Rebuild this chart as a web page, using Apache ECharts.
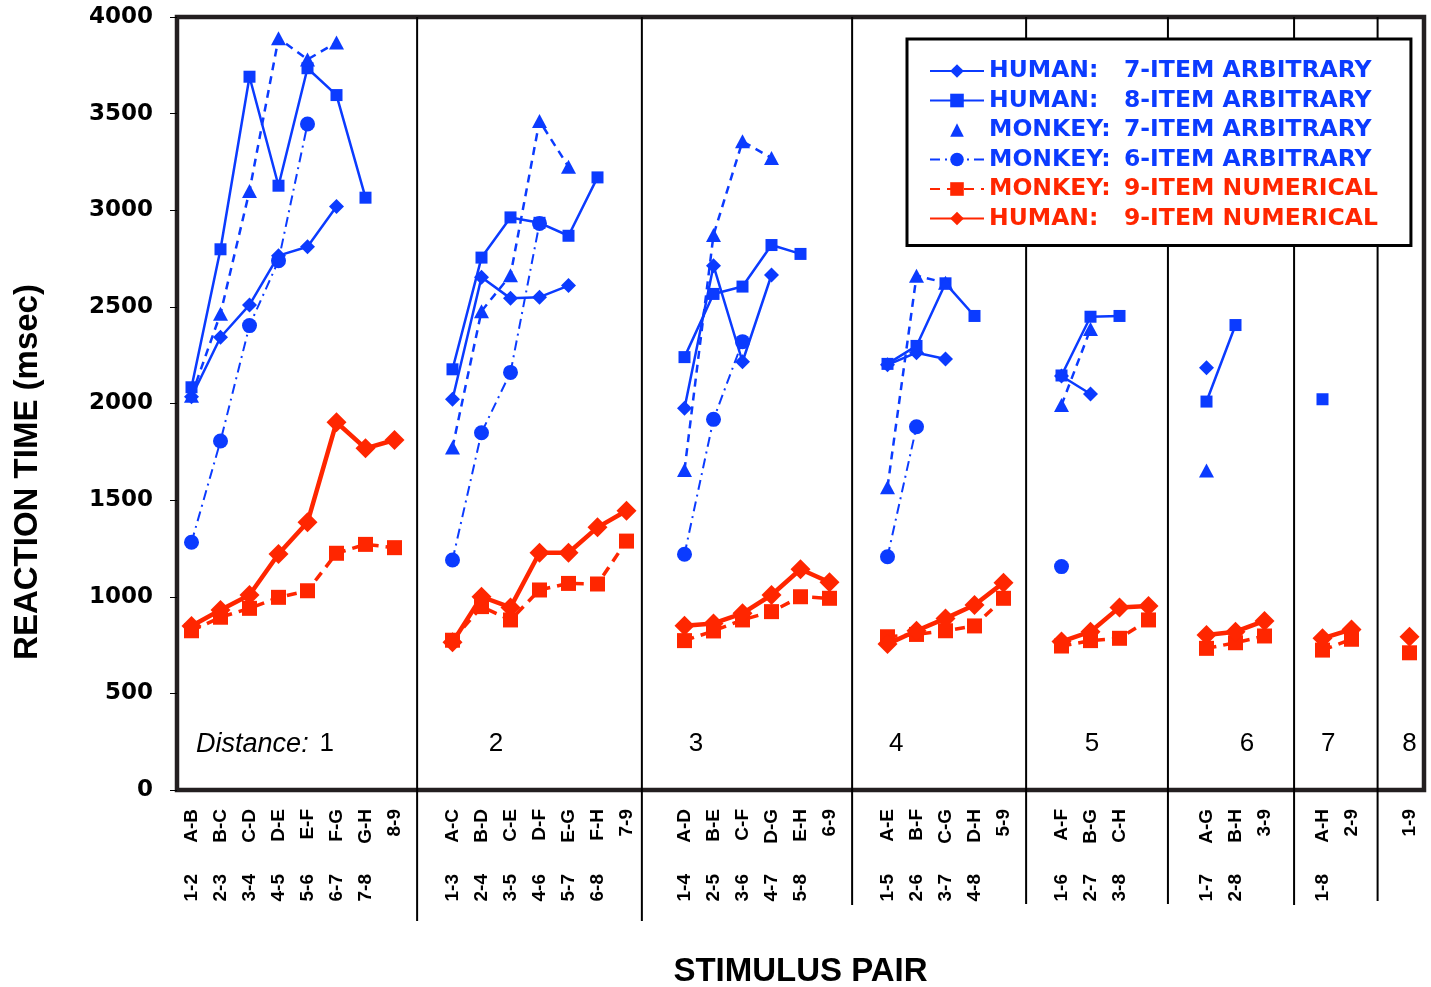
<!DOCTYPE html>
<html>
<head>
<meta charset="utf-8">
<title>Reaction time by stimulus pair</title>
<script src="https://cdn.jsdelivr.net/npm/echarts@6/dist/echarts.min.js"></script>
<style>
  html, body { margin: 0; padding: 0; background: #fff; }
  #main { width: 1431px; height: 987px; }
</style>
</head>
<body>
<div id="main"></div>
<script>
// x axis tick labels, one slot per pair ('' = empty slot / gap between distances)
const topLabels = [
  'A-B', 'B-C', 'C-D', 'D-E', 'E-F', 'F-G', 'G-H', '8-9', '',
  'A-C', 'B-D', 'C-E', 'D-F', 'E-G', 'F-H', '7-9', '',
  'A-D', 'B-E', 'C-F', 'D-G', 'E-H', '6-9', '',
  'A-E', 'B-F', 'C-G', 'D-H', '5-9', '',
  'A-F', 'B-G', 'C-H', '', '',
  'A-G', 'B-H', '3-9', '',
  'A-H', '2-9', '',
  '1-9'
]
const bottomLabels = [
  '1-2', '2-3', '3-4', '4-5', '5-6', '6-7', '7-8', '', '',
  '1-3', '2-4', '3-5', '4-6', '5-7', '6-8', '', '',
  '1-4', '2-5', '3-6', '4-7', '5-8', '', '',
  '1-5', '2-6', '3-7', '4-8', '', '',
  '1-6', '2-7', '3-8', '', '',
  '1-7', '2-8', '', '',
  '1-8', '', '',
  ''
]
// first slot of each distance group
const groupStart = [0, 9, 17, 24, 30, 35, 39, 42]
const distances = ['1', '2', '3', '4', '5', '6', '7', '8']

// reaction times (msec), one inner list per distance
const human7 = [
  [2035, 2343, 2510, 2765, 2811, 3019],
  [2022, 2653, 2544, 2550, 2610],
  [1975, 2713, 2216, 2665],
  [2200, 2263, 2230],
  [2142, 2049],
  [2185]
]
const human8 = [
  [2084, 2798, 3691, 3127, 3735, 3596, 3065],
  [2177, 2755, 2963, 2935, 2868, 3170],
  [2240, 2567, 2605, 2820, 2774],
  [2205, 2298, 2622, 2453],
  [2145, 2449, 2453],
  [2010, 2406],
  [2022]
]
const monkey7 = [
  [2040, 2465, 3100, 3890, 3780, 3868],
  [1772, 2478, 2664, 3462, 3225],
  [1656, 2872, 3357, 3270],
  [1567, 2661, 2625],
  [1992, 2385],
  [1653]
]
const monkey6 = [
  [1282, 1806, 2403, 2739, 3446],
  [1190, 1849, 2161, 2932],
  [1220, 1918, 2320],
  [1207, 1880],
  [1156]
]
const monkey9 = [
  [824, 894, 940, 997, 1031, 1225, 1271, 1254],
  [775, 949, 880, 1035, 1069, 1066, 1288],
  [773, 823, 880, 923, 1000, 992],
  [793, 805, 824, 849, 992],
  [745, 773, 785, 880],
  [733, 762, 797],
  [724, 780],
  [710]
]
const human9 = [
  [849, 931, 1009, 1221, 1385, 1903, 1768, 1811],
  [764, 1000, 945, 1228, 1228, 1359, 1445],
  [850, 862, 914, 1009, 1142, 1075],
  [755, 824, 888, 957, 1073],
  [768, 819, 945, 952],
  [802, 819, 875],
  [785, 831],
  [793]
]

const BLUE = '#0b3bff'
const RED = '#ff2600'

// spread the per-distance lists over the 43 slots, nulls break the lines
function spread(groups) {
  let out = topLabels.map(() => null)
  groups.forEach((vals, g) => {
    vals.forEach((v, i) => {
      out[groupStart[g] + i] = v
    })
  })
  return out
}

const slotKeys = topLabels.map((_, i) => 'slot' + i)

let myChart = echarts.init(document.getElementById('main'))

const legendFont = { fontFamily: 'DejaVu Sans', fontWeight: 'bold', fontSize: 23.5, lineHeight: 24 }
const tickFont = { color: '#000', fontFamily: 'Liberation Sans', fontWeight: 'bold', fontSize: 19 }

let option = {
  animation: false,
  backgroundColor: '#fff',
  grid: {
    left: 177,
    right: 7,
    top: 17,
    bottom: 197,
    outerBoundsMode: 'none',
    containLabel: false,
    show: true,
    borderColor: '#231f20',
    borderWidth: 4.5,
    backgroundColor: 'transparent'
  },
  legend: {
    orient: 'vertical',
    left: 907,
    top: 39,
    padding: [20, 33, 15, 22],
    backgroundColor: '#fff',
    borderColor: '#000',
    borderWidth: 3,
    itemWidth: 54,
    itemHeight: 17,
    itemGap: 5.5,
    selectedMode: false,
    textStyle: Object.assign({
      rich: {
        a: Object.assign({ width: 135 }, legendFont),
        b: Object.assign({}, legendFont)
      }
    }, legendFont),
    formatter: name => {
      let i = name.indexOf(':')
      return '{a|' + name.slice(0, i + 1) + '}{b|' + name.slice(i + 1).trim() + '}'
    },
    data: [
      { name: 'HUMAN: 7-ITEM ARBITRARY', textStyle: { color: BLUE } },
      { name: 'HUMAN: 8-ITEM ARBITRARY', textStyle: { color: BLUE } },
      { name: 'MONKEY: 7-ITEM ARBITRARY', textStyle: { color: BLUE }, lineStyle: { opacity: 0 } },
      { name: 'MONKEY: 6-ITEM ARBITRARY', textStyle: { color: BLUE } },
      { name: 'MONKEY: 9-ITEM NUMERICAL', textStyle: { color: RED } },
      { name: 'HUMAN: 9-ITEM NUMERICAL', textStyle: { color: RED } }
    ]
  },
  xAxis: [
    {
      type: 'category',
      data: slotKeys,
      position: 'bottom',
      boundaryGap: true,
      axisLine: { show: false },
      axisTick: { show: false },
      splitLine: { show: false },
      axisLabel: Object.assign({
        interval: 0,
        rotate: 90,
        margin: 19,
        formatter: (v, i) => topLabels[i]
      }, tickFont),
      name: 'STIMULUS PAIR',
      nameLocation: 'middle',
      nameGap: 165,
      nameTextStyle: {
        color: '#000',
        fontFamily: 'Liberation Sans',
        fontWeight: 'bold',
        fontSize: 33
      }
    },
    {
      type: 'category',
      data: slotKeys,
      position: 'bottom',
      boundaryGap: true,
      axisLine: { show: false },
      axisTick: { show: false },
      splitLine: { show: false },
      axisLabel: Object.assign({
        interval: 0,
        rotate: 90,
        margin: 84,
        formatter: (v, i) => bottomLabels[i]
      }, tickFont)
    }
  ],
  yAxis: {
    type: 'value',
    min: 0,
    max: 4000,
    interval: 500,
    axisLine: { show: false },
    axisTick: { show: true, inside: false, length: 7, lineStyle: { color: '#000', width: 1 } },
    splitLine: { show: false },
    axisLabel: {
      margin: 24,
      color: '#000',
      fontFamily: 'DejaVu Sans',
      fontWeight: 'bold',
      fontSize: 23,
      formatter: v => String(v)
    }
  },
  series: [
    {
      name: 'HUMAN: 7-ITEM ARBITRARY',
      type: 'line',
      data: spread(human7),
      connectNulls: false,
      symbol: 'diamond',
      symbolSize: 15,
      lineStyle: { color: BLUE, width: 2.5 },
      itemStyle: { color: BLUE }
    },
    {
      name: 'HUMAN: 8-ITEM ARBITRARY',
      type: 'line',
      data: spread(human8),
      connectNulls: false,
      symbol: 'rect',
      symbolSize: 12,
      lineStyle: { color: BLUE, width: 2.5 },
      itemStyle: { color: BLUE }
    },
    {
      name: 'MONKEY: 7-ITEM ARBITRARY',
      type: 'line',
      data: spread(monkey7),
      connectNulls: false,
      symbol: 'triangle',
      symbolSize: [15, 14],
      lineStyle: { color: BLUE, width: 2.5, type: [8, 6] },
      itemStyle: { color: BLUE }
    },
    {
      name: 'MONKEY: 6-ITEM ARBITRARY',
      type: 'line',
      data: spread(monkey6),
      connectNulls: false,
      symbol: 'circle',
      symbolSize: 15,
      lineStyle: { color: BLUE, width: 2, type: [10, 5, 2, 5] },
      itemStyle: { color: BLUE }
    },
    {
      name: 'MONKEY: 9-ITEM NUMERICAL',
      type: 'line',
      data: spread(monkey9),
      connectNulls: false,
      symbol: 'rect',
      symbolSize: 15,
      lineStyle: { color: RED, width: 3.5, type: [10, 7] },
      itemStyle: { color: RED }
    },
    {
      name: 'HUMAN: 9-ITEM NUMERICAL',
      type: 'line',
      data: spread(human9),
      connectNulls: false,
      symbol: 'diamond',
      symbolSize: 20,
      lineStyle: { color: RED, width: 4.5 },
      itemStyle: { color: RED }
    }
  ]
}
myChart.setOption(option, true)

// separators between distance groups, distance numbers and the y title
const x0 = myChart.convertToPixel({ xAxisIndex: 0 }, 0)
const step = myChart.convertToPixel({ xAxisIndex: 0 }, 1) - x0
const slotX = k => x0 + k * step
const yTop = myChart.convertToPixel({ yAxisIndex: 0 }, 4000)
const yBase = myChart.convertToPixel({ yAxisIndex: 0 }, 0)
const yDist = myChart.convertToPixel({ yAxisIndex: 0 }, 238)

const sepPos = [7.78, 15.53, 22.78, 28.78, 33.67, 38.02, 40.9]
const sepDrop = [131, 131, 115, 114, 114, 115, 111]
const distPos = [4.66, 10.5, 17.4, 24.3, 31.05, 36.4, 39.2, 42]

let graphics = []
sepPos.forEach((p, i) => {
  graphics.push({
    type: 'line',
    z: 0,
    shape: { x1: slotX(p), y1: yTop, x2: slotX(p), y2: yBase + sepDrop[i] },
    style: { stroke: '#000', lineWidth: 2 }
  })
})
distances.forEach((d, i) => {
  graphics.push({
    type: 'text',
    z: 5,
    x: slotX(distPos[i]),
    y: yDist,
    style: { text: d, font: '26px "Liberation Sans"', fill: '#000', textAlign: 'center', textVerticalAlign: 'middle' }
  })
})
graphics.push({
  type: 'text',
  z: 5,
  x: slotX(distPos[0]) - 18,
  y: yDist,
  style: { text: 'Distance:', font: 'italic 27px "Liberation Sans"', fill: '#000', textAlign: 'right', textVerticalAlign: 'middle' }
})
graphics.push({
  type: 'text',
  z: 5,
  x: 28,
  y: 472,
  rotation: Math.PI / 2,
  style: { text: 'REACTION TIME (msec)', font: 'bold 33px "Liberation Sans"', fill: '#000', textAlign: 'center', textVerticalAlign: 'middle' }
})
myChart.setOption({ graphic: graphics })
</script>
</body>
</html>
